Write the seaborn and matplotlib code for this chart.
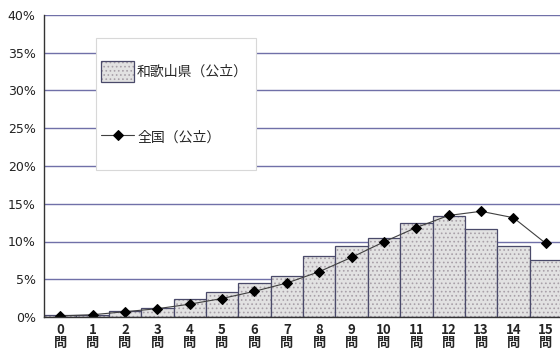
import matplotlib
matplotlib.use("Agg")
import matplotlib.pyplot as plt
import seaborn as sns
import pandas as pd
from matplotlib.colors import to_rgba
from matplotlib.patches import Rectangle
from matplotlib.ticker import FuncFormatter, MultipleLocator

# Share of students by number of correct answers (0-15 questions)
questions = list(range(16))
tick_labels = [f"{q}\n問" for q in questions]
wakayama = [0.2, 0.3, 0.75, 1.25, 2.45, 3.25, 4.5, 5.45, 8.05, 9.4, 10.5, 12.5, 13.35, 11.7, 9.4, 7.5]
national = [0.15, 0.3, 0.7, 1.1, 1.7, 2.45, 3.4, 4.5, 6.0, 7.9, 9.95, 11.85, 13.45, 14.0, 13.15, 9.75]
label_pref = "和歌山県（公立）"
label_nat = "全国（公立）"

sns.set_theme(style="white")
plt.rcParams["font.family"] = ["Noto Sans CJK JP", "DejaVu Sans"]
plt.rcParams["hatch.linewidth"] = 0.7

df = pd.DataFrame({"q": tick_labels, "pref": wakayama, "nat": national, "x": questions})

W, H = 560, 350
fig = plt.figure(figsize=(W / 100, H / 100), dpi=100)
ax = fig.add_axes([44 / W, 1 - 317 / H, 518 / W, 302 / H])

sns.barplot(data=df, x="q", y="pref", ax=ax, width=1.0, color="#e2e2e2",
            saturation=1, edgecolor="#4a4a6a", linewidth=0.9, hatch="....",
            label=label_pref)
dot_color = to_rgba("#a8a0a8")
for p in ax.patches:
    if hasattr(p, "set_hatchcolor"):
        p.set_hatchcolor(dot_color)
    else:
        p._hatch_color = dot_color

sns.lineplot(data=df, x="x", y="nat", ax=ax, color="#404040", linewidth=0.8,
             marker="D", markersize=5, markerfacecolor="black",
             markeredgecolor="black", label=label_nat)

ax.set_xlim(-0.5, 15.5)
ax.set_ylim(0, 40)
ax.yaxis.set_major_locator(MultipleLocator(5))
ax.yaxis.set_major_formatter(FuncFormatter(lambda v, p: f"{v:.0f}%"))
ax.set_axisbelow(True)
ax.grid(axis="y", color="#7070a8", linewidth=1.0)
ax.set_xlabel("")
ax.set_ylabel("")
for side in ["top", "right"]:
    ax.spines[side].set_visible(False)
for side in ["left", "bottom"]:
    ax.spines[side].set_color("#333333")
    ax.spines[side].set_linewidth(1.0)

ax.tick_params(axis="y", labelsize=9, pad=6, colors="#222222", length=0)
ax.tick_params(axis="x", labelsize=9.5, pad=4, length=0)
for t in ax.get_xticklabels():
    t.set_linespacing(0.95)
    t.set_fontweight("bold")
for t in ax.get_yticklabels():
    t.set_fontfamily(["DejaVu Sans"])

# Legend box drawn as a plain rectangle, entries placed inside it
def ax_xy(px, py):
    return (px - 44) / 518, (317 - py) / 302

x0, y0 = ax_xy(96, 170)
x1, y1 = ax_xy(256, 38)
ax.add_patch(Rectangle((x0, y0), x1 - x0, y1 - y0, transform=ax.transAxes,
                       facecolor="white", edgecolor="#d8d8d8", linewidth=0.8,
                       zorder=4))

handles, labels = ax.get_legend_handles_labels()
order = [labels.index(label_pref), labels.index(label_nat)]
lx, ly = ax_xy(101, 61)
leg = ax.legend([handles[i] for i in order], [labels[i] for i in order],
                loc="upper left", bbox_to_anchor=(lx, ly), frameon=False,
                fontsize=10, labelspacing=3.3, handlelength=2.4,
                handleheight=1.9, handletextpad=0.2, borderpad=0,
                borderaxespad=0)
leg.set_zorder(5)

fig.savefig("out.png", dpi=100)
